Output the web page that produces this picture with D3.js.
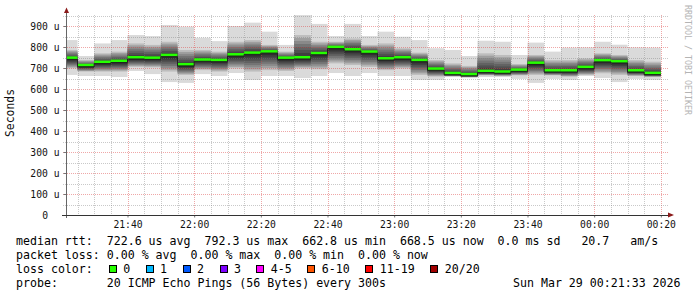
<!DOCTYPE html>
<html>
<head>
<meta charset="utf-8">
<script src="https://cdn.jsdelivr.net/npm/d3@7"></script>
<style>
body {margin: 0; background: #fff}
text {font-family: "DejaVu Sans Mono", monospace}
</style>
</head>
<body>
<div id="chart"></div>
<script>
// end time of every 5 minute step
var times = ["21:25","21:30","21:35","21:40","21:45","21:50","21:55","22:00","22:05","22:10",
  "22:15","22:20","22:25","22:30","22:35","22:40","22:45","22:50","22:55","23:00",
  "23:05","23:10","23:15","23:20","23:25","23:30","23:35","23:40","23:45","23:50",
  "23:55","00:00","00:05","00:10","00:15","00:20"]
// median rtt, microseconds
var med = [741,706,721,726,743,741,754,710,732,730,757,765,771,741,743,763,792.3,781,770,738,
  743,730,689,668,662.8,678,675,684,717,681,681,697,729,724,681,668.5]
// smoke: outer extent (slowest / fastest ping) and inner band
var pMax = [833,757,817,833,857,852,905,897,844,828,900,916,873,810,952,910,852,910,852,873,
  849,833,794,786,757,830,825,762,821,778,797,798,825,811,798,797]
var pMin = [667,662,662,657,686,671,633,629,671,662,676,643,662,662,652,662,676,662,676,662,
  662,643,643,657,652,657,657,648,629,648,643,662,652,633,648,643]
var q3 = [786,738,770,778,817,810,825,786,786,778,825,833,810,778,857,825,825,841,810,817,
  794,773,738,722,710,770,762,719,762,738,738,746,770,762,738,730]
var q1 = [698,683,683,683,705,703,683,667,690,683,698,683,690,686,698,694,722,714,705,690,
  698,667,659,661,657,665,662,665,667,665,659,667,675,667,662,658]

var yTicks = [0,100,200,300,400,500,600,700,800,900]
var yTickLabels = ["0","100 u","200 u","300 u","400 u","500 u","600 u","700 u","800 u","900 u"]
var xTicks = ["21:40","22:00","22:20","22:40","23:00","23:20","23:40","00:00","00:20"]
var lossLabels = ["0","1","2","3","4-5","6-10","11-19","20/20"]
var lossColors = ["#26ff00","#00b8ff","#0059ff","#7e00ff","#ff00ff","#ff5500","#ff0000","#a10000"]

var legendLines = [
  "median rtt:  722.6 us avg  792.3 us max  662.8 us min  668.5 us now  0.0 ms sd   20.7   am/s",
  "packet loss: 0.00 % avg  0.00 % max  0.00 % min  0.00 % now",
  "loss color:",
  "probe:       20 ICMP Echo Pings (56 Bytes) every 300s"]

var W = 697, H = 297
var plot = {left: 66, right: 666, top: 15, bottom: 215}
var yMax = 952.4
var cw = 7.03

function parseT(s) {
  var p = s.split(":")
  var d = new Date(Date.UTC(2026, 2, 28, +p[0], +p[1], +(p[2] || 0)))
  if (+p[0] < 12) d = new Date(d.getTime() + 864e5)
  return d
}

var svg = d3.select("#chart").append("svg")
    .attr("width", W).attr("height", H)

var x = d3.scaleUtc()
    .domain([parseT("21:21:33"), parseT("00:21:33")])
    .range([plot.left, plot.right])
var y = d3.scaleLinear().domain([0, yMax]).range([plot.bottom, plot.top])

var bars = times.map(function(t, i) {
  var end = parseT(t)
  return {x0: Math.max(x(d3.utcMinute.offset(end, -5)), plot.left), x1: x(end), i: i}
})

// smoke
var smoke = svg.append("g")
smoke.selectAll("rect.outer").data(bars).enter().append("rect")
    .attr("x", function(d) { return d.x0 }).attr("width", function(d) { return d.x1 - d.x0 })
    .attr("y", function(d) { return y(pMax[d.i]) })
    .attr("height", function(d) { return y(pMin[d.i]) - y(pMax[d.i]) })
    .style("fill", "#dadada")

var K = 8
var shade = d3.interpolateRgb("#bdbdbd", "#2e2e2e")
d3.range(K).forEach(function(k) {
  var f = 1 - k / K
  smoke.selectAll(null).data(bars).enter().append("rect")
      .attr("x", function(d) { return d.x0 }).attr("width", function(d) { return d.x1 - d.x0 })
      .attr("y", function(d) { return y(med[d.i] + (q3[d.i] - med[d.i]) * f) })
      .attr("height", function(d) {
        return y(med[d.i] - (med[d.i] - q1[d.i]) * f) - y(med[d.i] + (q3[d.i] - med[d.i]) * f)
      })
      .style("fill", shade(Math.pow(k / (K - 1), 0.8)))
})

// grid
var grid = svg.append("g").attr("shape-rendering", "crispEdges")
var minorX = d3.utcMinute.every(5).range(x.domain()[0], x.domain()[1])
grid.selectAll("line.vx").data(minorX).enter().append("line")
    .attr("x1", function(d) { return Math.round(x(d)) + 0.5 })
    .attr("x2", function(d) { return Math.round(x(d)) + 0.5 })
    .attr("y1", plot.top).attr("y2", plot.bottom + 2)
    .style("stroke", function(d) { return d.getUTCMinutes() % 20 == 0 ? "rgba(220,60,60,0.45)" : "rgba(120,120,120,0.4)" })
    .style("stroke-dasharray", "1,1")
var minorY = d3.range(50, yMax, 50)
grid.selectAll("line.hy").data(minorY).enter().append("line")
    .attr("x1", plot.left - 3).attr("x2", plot.right + 2)
    .attr("y1", function(d) { return Math.round(y(d)) + 0.5 })
    .attr("y2", function(d) { return Math.round(y(d)) + 0.5 })
    .style("stroke", function(d) { return d % 100 == 0 ? "rgba(220,60,60,0.45)" : "rgba(120,120,120,0.4)" })
    .style("stroke-dasharray", "1,1")

// median
svg.append("g").selectAll("rect").data(bars).enter().append("rect")
    .attr("x", function(d) { return d.x0 }).attr("width", function(d) { return d.x1 - d.x0 })
    .attr("y", function(d) { return y(med[d.i]) - 3 }).attr("height", 3)
    .style("fill", lossColors[0])

var stepPts = bars.map(function(d) { return [d.x0, y(med[d.i])] })
stepPts.push([bars[bars.length - 1].x1, y(med[med.length - 1])])
svg.append("path")
    .attr("d", d3.line().curve(d3.curveStepAfter)(stepPts))
    .style("fill", "none").style("stroke", "#202020").style("stroke-width", 1)

// axes
var yAxis = svg.append("g")
    .attr("transform", "translate(" + (plot.left + 0.5) + ",0)")
    .call(d3.axisLeft(y).tickValues(yTicks).tickSize(3).tickPadding(4)
      .tickFormat(function(d, i) { return yTickLabels[i] }))
yAxis.select(".domain").remove()
yAxis.selectAll("line").style("stroke", "#777")
yAxis.selectAll("text").style("font-size", "9.7px").style("fill", "#111")
    .attr("dx", function(d) { return d == 0 ? -11.5 : 0 })

var xAxis = svg.append("g")
    .attr("transform", "translate(0," + (plot.bottom + 0.5) + ")")
    .call(d3.axisBottom(x).tickValues(xTicks.map(parseT)).tickSize(2).tickPadding(4)
      .tickFormat(d3.utcFormat("%H:%M")))
xAxis.select(".domain").remove()
xAxis.selectAll("line").style("stroke", "#777")
xAxis.selectAll("text").style("font-size", "9.7px").style("fill", "#111")

svg.append("line")
    .attr("x1", plot.left + 0.5).attr("x2", plot.left + 0.5)
    .attr("y1", plot.bottom + 3).attr("y2", 11)
    .style("stroke", "#666")
svg.append("line")
    .attr("x1", plot.left - 4).attr("x2", 670)
    .attr("y1", plot.bottom + 0.5).attr("y2", plot.bottom + 0.5)
    .style("stroke", "#333")
svg.append("path").attr("d", "M64,13L69,13L66.5,7.5Z").style("fill", "#8b1a1a")
svg.append("path").attr("d", "M668,212.5L668,217.5L674,215Z").style("fill", "#8b1a1a")

svg.append("text")
    .attr("transform", "translate(14,113) rotate(-90)")
    .attr("text-anchor", "middle")
    .style("font-size", "11.4px").style("fill", "#111")
    .text("Seconds")

svg.append("text")
    .attr("transform", "translate(685,5) rotate(90)")
    .style("font-size", "8.3px").style("fill", "#b4b4b4")
    .text("RRDTOOL / TOBI OETIKER")

// legend
var legend = svg.append("g")
var baselines = [245, 258.9, 272.8, 286.7]
legendLines.forEach(function(s, i) {
  legend.append("text")
      .attr("x", 16).attr("y", baselines[i])
      .attr("xml:space", "preserve")
      .style("white-space", "pre")
      .style("font-size", "11.6px").style("fill", "#000")
      .text(s)
})
legend.append("text")
    .attr("x", 513).attr("y", baselines[3])
    .style("font-size", "11.6px").style("fill", "#000")
    .text("Sun Mar 29 00:21:33 2026")

var cx = 16 + 13.2 * cw
lossLabels.forEach(function(l, i) {
  legend.append("rect")
      .attr("x", Math.round(cx) + 0.5).attr("y", 265.5)
      .attr("width", 7).attr("height", 7)
      .style("fill", lossColors[i]).style("stroke", "#000")
  var lx = cx + 2.05 * cw
  legend.append("text")
      .attr("x", lx).attr("y", baselines[2])
      .style("font-size", "11.6px").style("fill", "#000")
      .text(l)
  cx = lx + (l.length + 2.2) * cw
})
</script>
</body>
</html>
